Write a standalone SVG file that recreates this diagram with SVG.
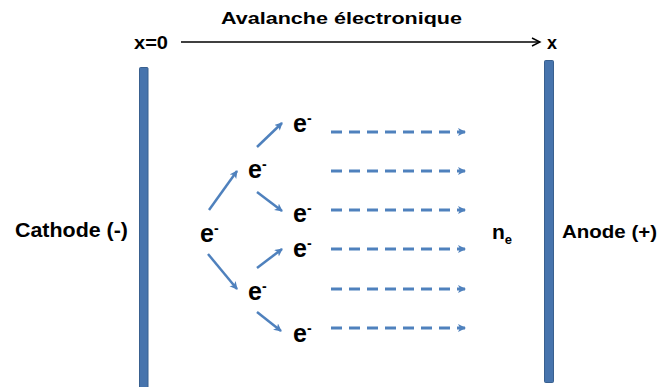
<svg xmlns="http://www.w3.org/2000/svg" width="662" height="387" viewBox="0 0 662 387">
<style>
.t{font-family:"Liberation Sans",Arial,sans-serif;font-weight:bold;fill:#000}
.e{font-family:"Liberation Sans",Arial,sans-serif;font-weight:bold;font-size:25px;fill:#000}
.bar{fill:#4774AD;stroke:#39608F;stroke-width:1}
.sa{stroke:#4F81BD;stroke-width:2.5;fill:none;marker-end:url(#ah)}
.da{stroke:#4F81BD;stroke-width:3;fill:none;stroke-dasharray:11 7;marker-end:url(#ah)}
</style>
<defs>
<marker id="ah" markerWidth="10" markerHeight="10" refX="7" refY="4" orient="auto" markerUnits="userSpaceOnUse">
<path d="M0,0 L8,4 L0,8 L2,4 z" fill="#4F81BD"/>
</marker>
<marker id="ak" markerWidth="12" markerHeight="12" refX="9" refY="5" orient="auto" markerUnits="userSpaceOnUse">
<path d="M1,1 L9,5 L1,9" fill="none" stroke="#000" stroke-width="1.4"/>
</marker>
</defs>
<g id="title">
<text class="t" x="221" y="24" font-size="17" textLength="241" lengthAdjust="spacingAndGlyphs">Avalanche électronique</text>
</g>
<g id="axis">
<text class="t" x="134" y="49" font-size="18" textLength="34" lengthAdjust="spacingAndGlyphs">x=0</text>
<line x1="181" y1="42" x2="540" y2="42" stroke="#000" stroke-width="1.3" marker-end="url(#ak)"/>
<text class="t" x="547" y="49" font-size="18">x</text>
</g>
<g id="cathode">
<rect class="bar" x="139.5" y="67.5" width="8.5" height="330" rx="1"/>
<text class="t" x="15" y="237" font-size="19.5" textLength="113" lengthAdjust="spacingAndGlyphs">Cathode (-)</text>
</g>
<g id="anode">
<rect class="bar" x="544.5" y="60.5" width="9" height="322" rx="1"/>
<text class="t" x="562" y="238" font-size="18.5" textLength="95" lengthAdjust="spacingAndGlyphs">Anode (+)</text>
</g>
<g id="ne">
<text class="t" x="492" y="239" font-size="21">n<tspan font-size="13" dy="5">e</tspan></text>
</g>
<g id="e0"><text class="e" x="200" y="242">e<tspan font-size="14" dy="-9">-</tspan></text></g>
<g id="e1"><text class="e" x="248" y="178">e<tspan font-size="14" dy="-9">-</tspan></text></g>
<g id="e2"><text class="e" x="248" y="300">e<tspan font-size="14" dy="-9">-</tspan></text></g>
<g id="e3"><text class="e" x="293" y="132">e<tspan font-size="14" dy="-9">-</tspan></text></g>
<g id="e4"><text class="e" x="293" y="222">e<tspan font-size="14" dy="-9">-</tspan></text></g>
<g id="e5"><text class="e" x="293" y="257">e<tspan font-size="14" dy="-9">-</tspan></text></g>
<g id="e6"><text class="e" x="293" y="342">e<tspan font-size="14" dy="-9">-</tspan></text></g>
<g id="connectors">
<line class="sa" x1="209" y1="210" x2="237" y2="171"/>
<line class="sa" x1="208" y1="254" x2="237" y2="289"/>
<line class="sa" x1="257" y1="147" x2="282" y2="123"/>
<line class="sa" x1="257" y1="192" x2="282" y2="211"/>
<line class="sa" x1="257" y1="268" x2="282" y2="249"/>
<line class="sa" x1="257" y1="312" x2="281" y2="331"/>
<line class="da" x1="331" y1="132" x2="465" y2="132"/>
<line class="da" x1="331" y1="171" x2="465" y2="171"/>
<line class="da" x1="331" y1="210" x2="465" y2="210"/>
<line class="da" x1="331" y1="249" x2="465" y2="249"/>
<line class="da" x1="331" y1="289" x2="465" y2="289"/>
<line class="da" x1="331" y1="328" x2="465" y2="328"/>
</g>
</svg>
